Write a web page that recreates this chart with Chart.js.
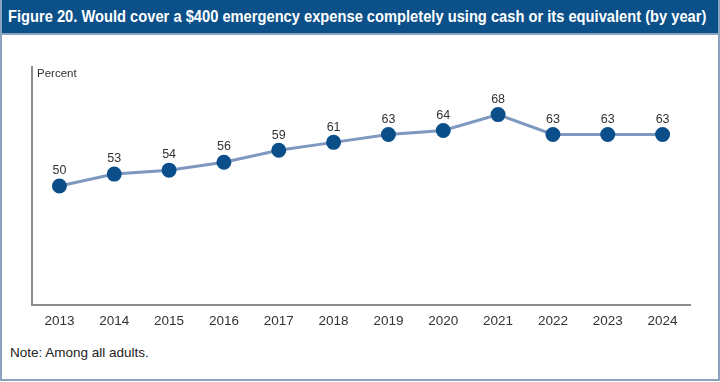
<!DOCTYPE html>
<html>
<head>
<meta charset="utf-8">
<script src="https://cdn.jsdelivr.net/npm/chart.js@4.4.1/dist/chart.umd.min.js"></script>
<style>
  html, body { margin: 0; padding: 0; background: #fff; }
  #fig {
    position: relative; width: 716px; height: 379px;
    border: 2px solid #8aa4bf; border-top: none;
    margin: 0; overflow: hidden;
  }
  #head {
    height: 33px; background: #0b5089; color: #fff;
    line-height: 33px; padding-left: 8px; white-space: nowrap;
    border-bottom: 2px solid #8aa4bf; margin: 0 -2px; overflow: hidden;
  }
  #title {
    display: inline-block; transform-origin: 0 50%;
    font: bold 17px "Liberation Sans", Arial, sans-serif;
  }
  #wrap { position: absolute; left: -2px; top: 35px; width: 720px; height: 300px; }
  #note {
    position: absolute; left: 8px; top: 345px;
    font: 13.5px "Liberation Sans", Arial, sans-serif; color: #222;
  }
</style>
</head>
<body>
<div id="fig">
  <div id="head"><span id="title">Figure 20. Would cover a $400 emergency expense completely using cash or its equivalent (by year)</span></div>
  <div id="wrap"><canvas id="chart"></canvas></div>
  <div id="note">Note: Among all adults.</div>
</div>
<script>
// ---- datos ----
const years  = ['2013', '2014', '2015', '2016', '2017', '2018', '2019', '2020', '2021', '2022', '2023', '2024'];
const values = [50, 53, 54, 56, 59, 61, 63, 64, 68, 63, 63, 63];
const yMin = 20, yMax = 80;

const LINE  = '#7e98bf';
const POINT = '#0b4f8a';
const AXIS  = '#8c8c8c';

// título condensado: se ajusta al ancho del original
const title = document.getElementById('title');
title.style.transform = 'scaleX(' + (698 / title.offsetWidth) + ')';

// etiquetas de valor y "Percent"
const labelsPlugin = {
    id: 'labels',
    afterDatasetsDraw(chart) {
        const ctx = chart.ctx;
        const meta = chart.getDatasetMeta(0);
        ctx.save();
        ctx.fillStyle = '#333';
        ctx.font = '12.5px "Liberation Sans", Arial, sans-serif';
        ctx.textAlign = 'center';
        ctx.textBaseline = 'bottom';
        meta.data.forEach((pt, i) => {
            ctx.fillText(values[i], pt.x, pt.y - 9);
        });
        ctx.textAlign = 'left';
        ctx.textBaseline = 'top';
        ctx.font = '11.5px "Liberation Sans", Arial, sans-serif';
        ctx.fillText('Percent', chart.chartArea.left + 5, chart.chartArea.top + 1);
        ctx.restore();
    }
};

new Chart(document.getElementById('chart'), {
    type: 'line',
    data: {
        labels: years,
        datasets: [{
            data: values,
            borderColor: LINE,
            borderWidth: 3,
            pointBackgroundColor: POINT,
            pointBorderColor: POINT,
            pointRadius: 6,
            tension: 0,
        }]
    },
    options: {
        responsive: true,
        maintainAspectRatio: false,
        animation: false,
        layout: { padding: { left: 32, right: 30, top: 32, bottom: 0 } },
        plugins: { legend: { display: false }, tooltip: { enabled: false } },
        scales: {
            x: {
                offset: true,
                grid: { display: false, drawTicks: false },
                border: { color: AXIS, width: 2 },
                ticks: { color: '#333', padding: 8, font: { family: '"Liberation Sans", Arial, sans-serif', size: 13.5 } },
                afterFit: s => { s.height = 30; }
            },
            y: {
                min: yMin, max: yMax,
                grid: { display: false, drawTicks: false },
                border: { color: AXIS, width: 2 },
                ticks: { display: false },
                afterFit: s => { s.width = 0; }
            }
        }
    },
    plugins: [labelsPlugin]
});
</script>
</body>
</html>
